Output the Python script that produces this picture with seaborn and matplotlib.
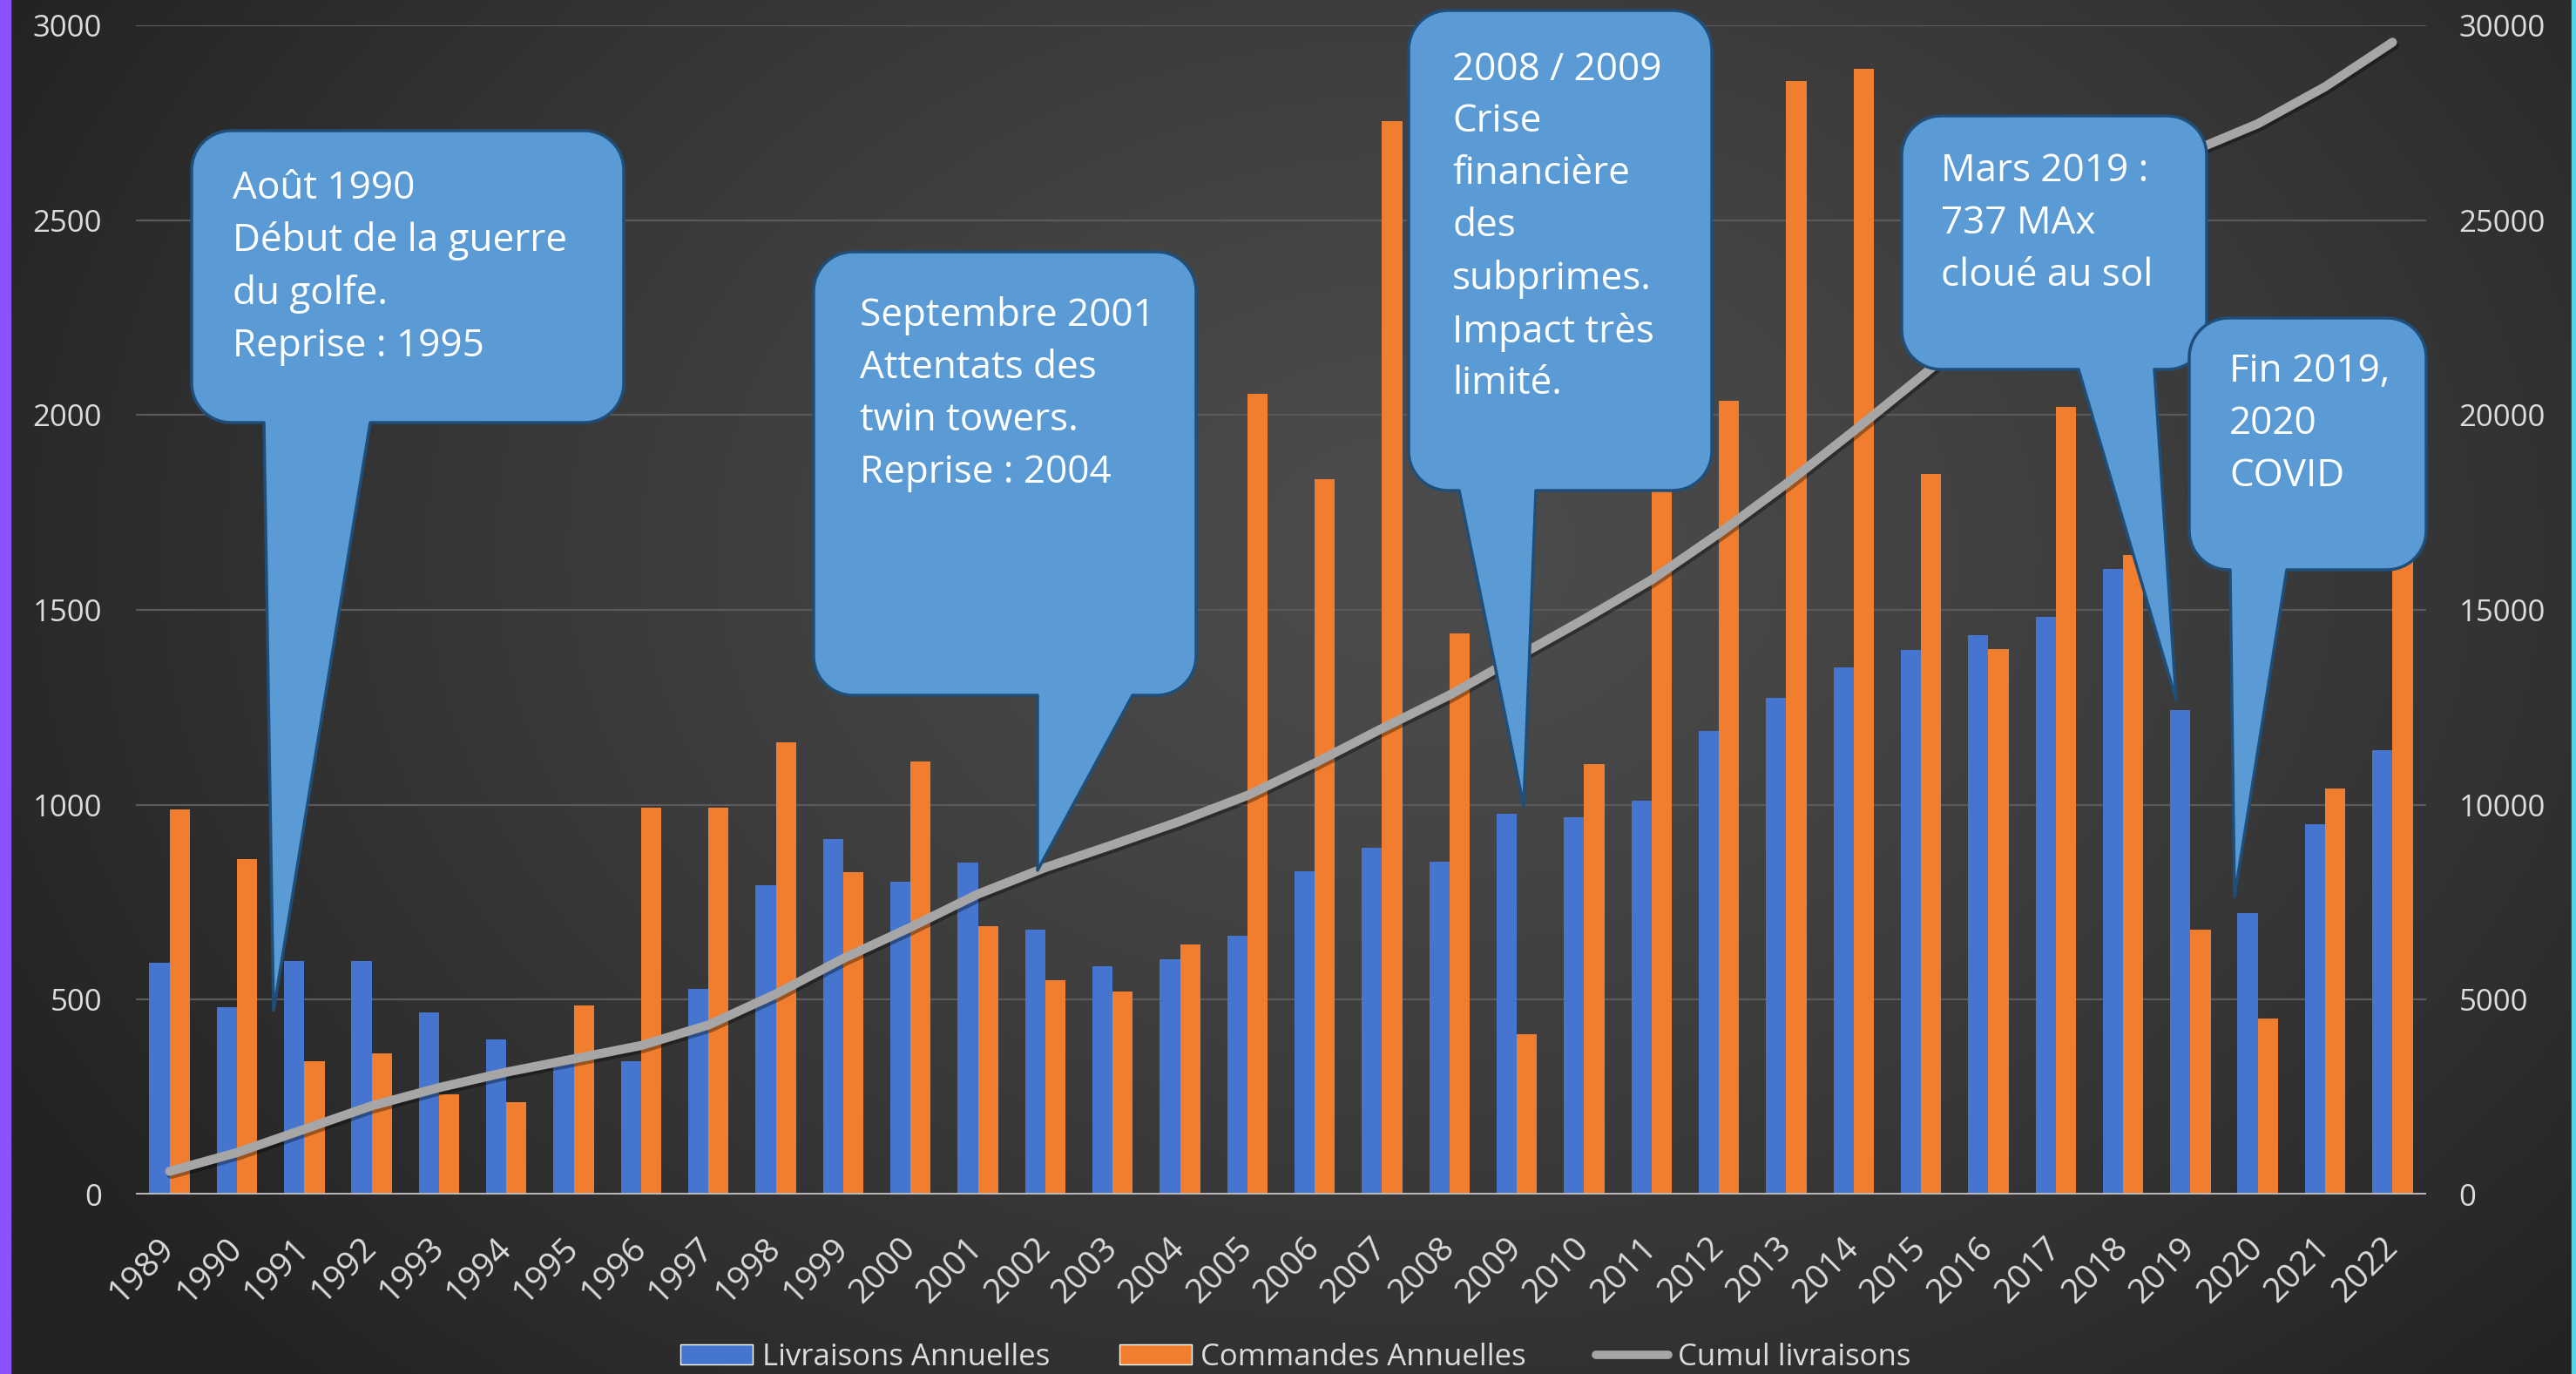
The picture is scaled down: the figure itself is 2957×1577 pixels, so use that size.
import numpy as np
import pandas as pd
import matplotlib
matplotlib.use("Agg")
import matplotlib.pyplot as plt
import seaborn as sns
from matplotlib.patches import Polygon, Patch, Rectangle
from matplotlib.lines import Line2D
import matplotlib.patheffects as pe

# ---------------- data ----------------
years = [str(y) for y in range(1989, 2023)]
livraisons = [595, 481, 599, 600, 468, 397, 340, 343, 527, 793, 911, 802, 852, 680,
              585, 603, 663, 830, 890, 855, 977, 969, 1011, 1189, 1274, 1352, 1397,
              1436, 1481, 1606, 1243, 723, 951, 1141]
commandes = [987, 861, 342, 363, 257, 236, 485, 992, 992, 1160, 827, 1110, 688, 549,
             520, 641, 2055, 1835, 2754, 1440, 412, 1104, 2224, 2036, 2858, 2888, 1848,
             1399, 2021, 1640, 679, 451, 1042, 1628]
cumul = [595, 1076, 1675, 2275, 2743, 3140, 3480, 3823, 4350, 5143, 6054, 6856, 7708,
         8388, 8973, 9576, 10239, 11069, 11959, 12814, 13791, 14760, 15771, 16960,
         18234, 19586, 20983, 22419, 23900, 25506, 26749, 27472, 28423, 29564]
left_ticks = [0, 500, 1000, 1500, 2000, 2500, 3000]
right_ticks = [0, 5000, 10000, 15000, 20000, 25000, 30000]
series_names = ["Livraisons Annuelles", "Commandes Annuelles", "Cumul livraisons"]
callout_texts = [
    "Août 1990\nDébut de la guerre\ndu golfe.\nReprise : 1995",
    "Septembre 2001\nAttentats des\ntwin towers.\nReprise : 2004",
    "2008 / 2009\nCrise\nfinancière\ndes\nsubprimes.\nImpact très\nlimité.",
    "Mars 2019 :\n737 MAx\ncloué au sol",
    "Fin 2019,\n2020\nCOVID",
]

# ---------------- style ----------------
W, H = 2957, 1577
BLUE = "#4575CF"
ORANGE = "#F07E2E"
GRAY = "#A6A6A6"
TXT = "#DCDCDC"

sns.set_theme(style="dark")
plt.rcParams['font.family'] = ['Open Sans', 'DejaVu Sans']

fig = plt.figure(figsize=(W / 100, H / 100), dpi=100)
fig.patch.set_facecolor('#333333')

# background gradient
bg = fig.add_axes([0, 0, 1, 1], zorder=-10)
yy, xx = np.mgrid[0:1:200j, 0:1:400j]
r = np.sqrt(((xx - 0.55) / 0.62) ** 2 + ((yy - 0.40) / 0.85) ** 2)
val = (0x4c - (0x4c - 0x23) * np.clip(r, 0, 1) ** 1.3) / 255
bg.imshow(np.dstack([val, val, val]), extent=[0, W, H, 0], aspect='auto',
          interpolation='bicubic')
bg.set_xlim(0, W)
bg.set_ylim(H, 0)
bg.axis('off')
bg.add_patch(Rectangle((0, 0), 12, H, color='#8c52ff'))
bg.add_patch(Rectangle((W - 5, 0), 5, H, color='#5ad2e6'))

# main axes
ax = fig.add_axes([156 / W, 1 - 1371 / H, (2785 - 156) / W, (1371 - 29) / H])
ax.patch.set_visible(False)
df = pd.DataFrame({
    'Année': years * 2,
    'Série': [series_names[0]] * len(years) + [series_names[1]] * len(years),
    'Valeur': livraisons + commandes,
})
sns.barplot(data=df, x='Année', y='Valeur', hue='Série', palette=[BLUE, ORANGE],
            width=0.6, saturation=1, ax=ax, legend=False, zorder=2,
            edgecolor='none', linewidth=0)
ax.set_ylim(0, 3000)
ax.set_xlim(-0.5, len(years) - 0.5)
ax.set_yticks(left_ticks)
ax.set_yticklabels([str(t) for t in left_ticks])
ax.set_xlabel('')
ax.set_ylabel('')
ax.set_axisbelow(True)
ax.yaxis.grid(True, color='#5a5a5a', lw=1.6)
ax.xaxis.grid(False)
for s in ax.spines.values():
    s.set_visible(False)
ax.axhline(0, color='#bcbcbc', lw=3.5, zorder=3)
ax.tick_params(axis='y', length=0, pad=28, labelsize=25, labelcolor=TXT)
ax.tick_params(axis='x', length=0, pad=40, labelsize=28, labelcolor=TXT)
plt.setp(ax.get_xticklabels(), rotation=45, ha='right', va='center',
         rotation_mode='anchor')

# cumulative line on secondary axis
ax2 = ax.twinx()
ax2.patch.set_visible(False)
sns.lineplot(x=np.arange(len(years)), y=cumul, ax=ax2, color=GRAY, lw=7.5,
             legend=False, solid_capstyle='round')
ax2.lines[0].set_path_effects([
    pe.SimpleLineShadow(offset=(1.5, -2.5), shadow_color='black', alpha=0.35),
    pe.Normal()])
ax2.set_ylim(0, 30000)
ax2.set_xlim(-0.5, len(years) - 0.5)
ax2.set_yticks(right_ticks)
ax2.set_yticklabels([str(t) for t in right_ticks])
ax2.set_ylabel('')
ax2.grid(False)
for s in ax2.spines.values():
    s.set_visible(False)
ax2.tick_params(axis='y', length=0, pad=27, labelsize=25, labelcolor=TXT)

# callouts (overlay in pixel coordinates)
ov = fig.add_axes([0, 0, 1, 1], zorder=10)
ov.set_xlim(0, W)
ov.set_ylim(H, 0)
ov.axis('off')
ov.patch.set_visible(False)


def bubble(x0, y0, x1, y1, bx0, bx1, tx, ty, rad=45):
    pts = []

    def arc(cx, cy, a0, a1):
        t = np.radians(np.linspace(a0, a1, 14))
        return list(zip(cx + rad * np.cos(t), cy + rad * np.sin(t)))
    pts += [(x0 + rad, y0), (x1 - rad, y0)]
    pts += arc(x1 - rad, y0 + rad, -90, 0)
    pts += [(x1, y1 - rad)]
    pts += arc(x1 - rad, y1 - rad, 0, 90)
    pts += [(bx1, y1), (tx, ty), (bx0, y1)]
    pts += arc(x0 + rad, y1 - rad, 90, 180)
    pts += arc(x0 + rad, y0 + rad, 180, 270)
    return Polygon(pts, closed=True, fc='#5B9BD5', ec='#1F4E79', lw=2.5,
                   joinstyle='round')


boxes = [
    (220, 150, 716, 485, 303, 425, 314, 1160),
    (934, 289, 1373, 798, 1191, 1300, 1191, 999),
    (1617, 12, 1965, 563, 1675, 1763, 1749, 925),
    (2183, 133, 2533, 424, 2386, 2473, 2498, 803),
    (2513, 365, 2785, 654, 2560, 2625, 2565, 1029),
]
text_pos = [(267, 228), (987, 374), (1667, 92), (2228, 209), (2559, 439)]
for b, (tx, tb), txt in zip(boxes, text_pos, callout_texts):
    ov.add_patch(bubble(*b))
    ov.text(tx, tb - 34, txt, color='white', fontsize=31.7, va='top', ha='left',
            linespacing=1.46)

# legend
handles = [Patch(fc=BLUE), Patch(fc=ORANGE),
           Line2D([], [], color=GRAY, lw=7, solid_capstyle='round')]
fig.legend(handles, series_names, loc='center', bbox_to_anchor=(1487 / W, 1 - 1558 / H),
           ncol=3, frameon=False, fontsize=25, labelcolor=TXT, handlelength=2.4,
           handleheight=0.65, handletextpad=0.3, columnspacing=2.3)

fig.savefig('out.png', dpi=100, facecolor=fig.get_facecolor())
